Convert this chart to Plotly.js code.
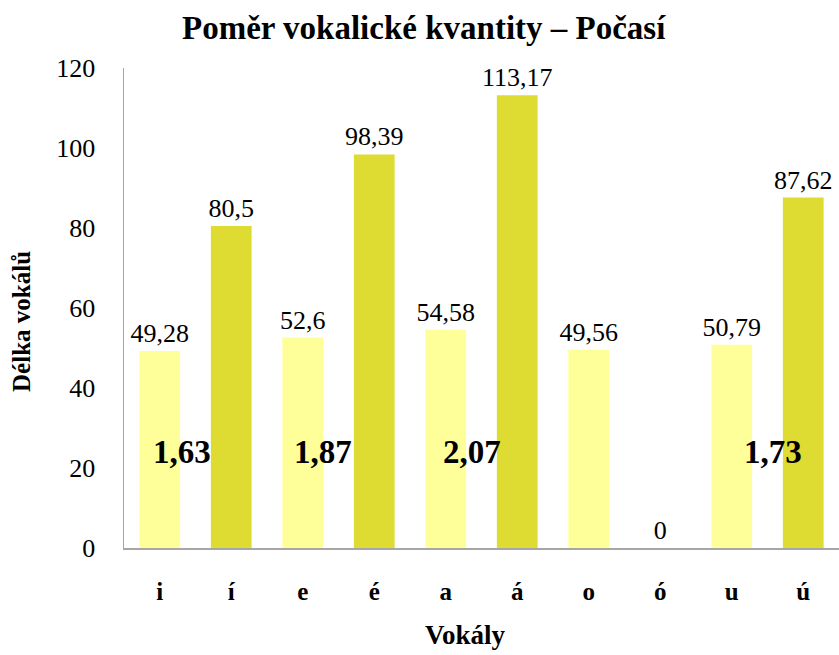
<!DOCTYPE html>
<html>
<head>
<meta charset="utf-8">
<script src="https://cdn.plot.ly/plotly-3.0.1.min.js"></script>
<style>html,body{margin:0;padding:0;background:#fff;}#chart{width:839px;height:655px;}</style>
</head>
<body>
<div id="chart"></div>
<script>
var vowels = ["i", "í", "e", "é", "a", "á", "o", "ó", "u", "ú"];
var lengths = [49.28, 80.5, 52.6, 98.39, 54.58, 113.17, 49.56, 0, 50.79, 87.62];
var ratioLabels = ["1,63", "1,87", "2,07", "1,73"];
var ratioPositions = [0.31, 2.28, 4.37, 8.57];
var ratioLevel = 24;
var xTitle = "Vokály";
var yTitle = "Délka vokálů";
var chartTitle = "Poměr vokalické kvantity – Počasí";

var shortColor = "#FFFF99";
var longColor = "#DEDC33";
var colors = vowels.map(function (v, i) { return i % 2 === 0 ? shortColor : longColor; });
var labels = lengths.map(function (v) { return String(v).replace(".", ","); });

var serif = "Liberation Serif";

var trace = {
  type: "bar",
  x: vowels,
  y: lengths,
  marker: { color: colors, line: { width: 0 } },
  text: labels,
  textposition: "outside",
  constraintext: "none",
  textfont: { family: serif, size: 26, color: "#000" },
  cliponaxis: false,
  hoverinfo: "x+y"
};

var annotations = ratioLabels.map(function (t, i) {
  return {
    x: ratioPositions[i], y: ratioLevel, xref: "x", yref: "y",
    text: "<b>" + t + "</b>", showarrow: false,
    font: { family: serif, size: 33, color: "#000" }
  };
});
annotations.push({
  x: 0.478, y: -0.182, xref: "paper", yref: "paper",
  xanchor: "center", yanchor: "middle",
  text: "<b>" + xTitle + "</b>", showarrow: false,
  font: { family: serif, size: 27, color: "#000" }
});
annotations.push({
  x: -0.1427, y: 0.473, xref: "paper", yref: "paper",
  xanchor: "center", yanchor: "middle", textangle: -90,
  text: "<b>" + yTitle + "</b>", showarrow: false,
  font: { family: serif, size: 25, color: "#000" }
});

var layout = {
  width: 839, height: 655,
  margin: { l: 124, r: 0, t: 68, b: 107 },
  paper_bgcolor: "#fff", plot_bgcolor: "#fff",
  bargap: 0.43,
  showlegend: false,
  title: {
    text: "<b>" + chartTitle + "</b>",
    font: { family: serif, size: 33, color: "#000" },
    x: 0.505, xanchor: "center", y: 0.958, yanchor: "middle"
  },
  xaxis: {
    type: "category",
    range: [-0.5, 9.5],
    showline: true, linecolor: "#a6a6a6", linewidth: 1.5,
    showgrid: false, zeroline: false,
    ticks: "", tickfont: { family: serif, size: 25, color: "#000" },
    tickprefix: "<b>", ticksuffix: "</b>",
    ticklabelstandoff: 20
  },
  yaxis: {
    range: [0, 120], dtick: 20,
    showline: true, linecolor: "#a6a6a6", linewidth: 1.5,
    showgrid: false, zeroline: false,
    ticks: "", tickfont: { family: serif, size: 26, color: "#000" },
    ticklabelstandoff: 22
  },
  annotations: annotations
};

Plotly.newPlot("chart", [trace], layout, { displayModeBar: false, staticPlot: true });
</script>
</body>
</html>
